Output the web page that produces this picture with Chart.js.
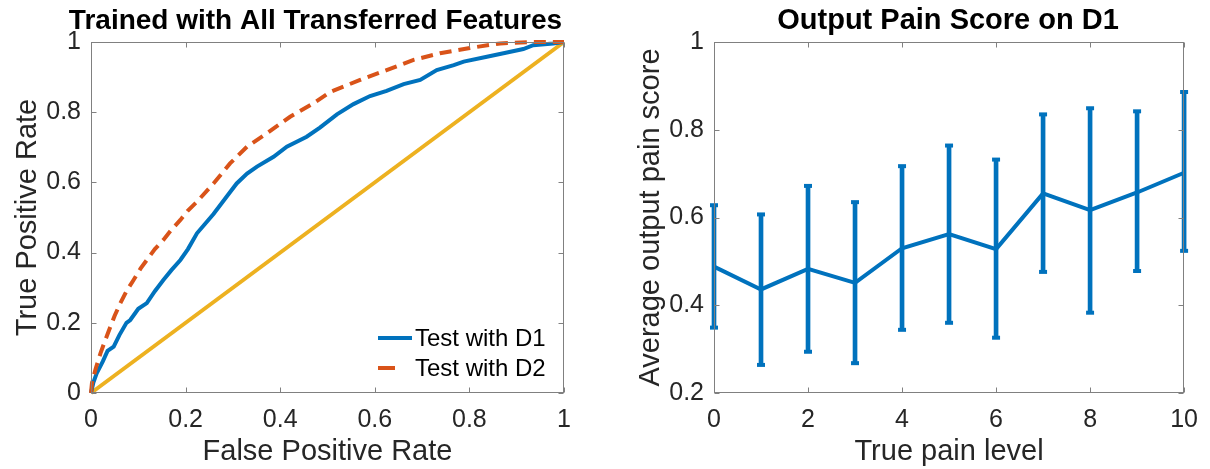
<!DOCTYPE html>
<html>
<head>
<meta charset="utf-8">
<script src="https://cdn.jsdelivr.net/npm/chart.js@4.4.0/dist/chart.umd.min.js"></script>
<style>
  html, body { margin: 0; padding: 0; background: #fff; }
  #wrap { position: relative; width: 1210px; height: 469px; }
  .panel { position: absolute; top: 0; height: 469px; }
  #left { left: 0; width: 630px; }
  #right { left: 630px; width: 580px; }
</style>
</head>
<body>
<div id="wrap">
  <div class="panel" id="left"><canvas id="roc"></canvas></div>
  <div class="panel" id="right"><canvas id="pain"></canvas></div>
</div>
<script>
// ROC curves
const fprD1 = [0, 0.005, 0.012, 0.025, 0.035, 0.048, 0.06, 0.075, 0.083, 0.1, 0.118, 0.135, 0.153, 0.17, 0.189, 0.205, 0.224, 0.24, 0.259, 0.287, 0.308, 0.33, 0.351, 0.386, 0.414, 0.456, 0.484, 0.52, 0.555, 0.59, 0.625, 0.661, 0.696, 0.731, 0.767, 0.788, 0.837, 0.872, 0.914, 0.935, 0.977, 1];
const tprD1 = [0, 0.03, 0.056, 0.09, 0.12, 0.132, 0.165, 0.2, 0.208, 0.24, 0.256, 0.29, 0.322, 0.35, 0.379, 0.41, 0.455, 0.48, 0.51, 0.56, 0.597, 0.625, 0.645, 0.673, 0.702, 0.73, 0.756, 0.794, 0.823, 0.846, 0.861, 0.88, 0.892, 0.92, 0.934, 0.944, 0.958, 0.968, 0.98, 0.991, 0.996, 1];
const fprD2 = [0, 0.002, 0.01, 0.02, 0.03, 0.041, 0.05, 0.062, 0.075, 0.09, 0.105, 0.118, 0.135, 0.153, 0.17, 0.189, 0.205, 0.224, 0.259, 0.294, 0.33, 0.372, 0.421, 0.47, 0.506, 0.569, 0.625, 0.682, 0.738, 0.801, 0.865, 0.935, 1];
const tprD2 = [0, 0.028, 0.07, 0.113, 0.15, 0.189, 0.22, 0.256, 0.29, 0.322, 0.355, 0.379, 0.41, 0.436, 0.465, 0.493, 0.52, 0.545, 0.597, 0.654, 0.702, 0.74, 0.787, 0.825, 0.858, 0.892, 0.92, 0.949, 0.968, 0.983, 0.996, 1, 1];
const chanceFpr = [0, 1];
const chanceTpr = [0, 1];
const rocTicks = [0, 0.2, 0.4, 0.6, 0.8, 1];
const rocTickLabels = ['0', '0.2', '0.4', '0.6', '0.8', '1'];

// pain score per true pain level, with error bar ends
const painLevels = [0, 1, 2, 3, 4, 5, 6, 7, 8, 9, 10];
const painMean = [0.488, 0.436, 0.483, 0.451, 0.530, 0.562, 0.528, 0.655, 0.617, 0.657, 0.702];
const painHigh = [0.628, 0.607, 0.672, 0.635, 0.717, 0.764, 0.732, 0.835, 0.849, 0.842, 0.886];
const painLow = [0.349, 0.264, 0.294, 0.268, 0.344, 0.360, 0.326, 0.476, 0.383, 0.478, 0.524];
const levelTicks = [0, 2, 4, 6, 8, 10];
const levelTickLabels = ['0', '2', '4', '6', '8', '10'];
const scoreTicks = [0.2, 0.4, 0.6, 0.8, 1];
const scoreTickLabels = ['0.2', '0.4', '0.6', '0.8', '1'];

const BLUE = '#0072BD', ORANGE = '#D95319', YELLOW = '#EDB120';
const INK = '#262626';
const FONT = '"Liberation Sans", Arial, Helvetica, sans-serif';

Chart.defaults.font.family = FONT;
Chart.defaults.animation = false;

const pts = (xs, ys) => xs.map((x, i) => ({ x: x, y: ys[i] }));

// box round the axes with inward ticks on all four sides
const matlabAxes = {
  id: 'matlabAxes',
  afterDatasetsDraw(chart) {
    const { ctx, chartArea: a, scales } = chart;
    const L = Math.round(a.left) + 0.5, R = Math.round(a.right) - 0.5;
    const T = Math.round(a.top) + 0.5, B = Math.round(a.bottom) - 0.5;
    ctx.save();
    ctx.strokeStyle = '#808080';
    ctx.lineWidth = 1;
    ctx.strokeRect(L, T, R - L, B - T);
    ctx.beginPath();
    scales.x.ticks.forEach(t => {
      const px = Math.round(scales.x.getPixelForValue(t.value)) + 0.5;
      ctx.moveTo(px, B); ctx.lineTo(px, B - 5);
      ctx.moveTo(px, T); ctx.lineTo(px, T + 5);
    });
    scales.y.ticks.forEach(t => {
      const py = Math.round(scales.y.getPixelForValue(t.value)) + 0.5;
      ctx.moveTo(L, py); ctx.lineTo(L + 5, py);
      ctx.moveTo(R, py); ctx.lineTo(R - 5, py);
    });
    ctx.stroke();
    ctx.restore();
  }
};

// bold title over the axes (the left one sits a bit left of centre in the original)
const panelTitle = {
  id: 'panelTitle',
  afterDraw(chart, args, opts) {
    const { ctx, chartArea: a } = chart;
    ctx.save();
    ctx.font = 'bold ' + opts.size + 'px ' + FONT;
    ctx.fillStyle = '#000';
    ctx.textAlign = 'center';
    ctx.textBaseline = 'middle';
    ctx.fillText(opts.text, (a.left + a.right) / 2 + opts.shift, 21);
    ctx.restore();
  }
};

// legend inside the ROC axes, lower right
const rocLegend = {
  id: 'rocLegend',
  afterDraw(chart) {
    const { ctx } = chart;
    const items = chart.data.datasets.filter(d => d.inLegend);
    ctx.save();
    ctx.font = '24px ' + FONT;
    ctx.textBaseline = 'middle';
    items.forEach((d, i) => {
      const y = 338 + i * 30;
      ctx.strokeStyle = d.borderColor;
      ctx.lineWidth = 4;
      ctx.setLineDash(d.borderDash && d.borderDash.length ? [17, 20] : []);
      ctx.beginPath();
      ctx.moveTo(378, y); ctx.lineTo(412, y);
      ctx.stroke();
      ctx.setLineDash([]);
      ctx.fillStyle = '#000';
      ctx.fillText(d.label, 415, y + 1);
    });
    ctx.restore();
  }
};

function axisX(ticks, labels, min, max, title) {
  return {
    type: 'linear', min: min, max: max, offset: false,
    grid: { display: false, drawTicks: false, offset: false }, border: { display: false },
    afterBuildTicks: s => { s.ticks = ticks.map(v => ({ value: v })); },
    ticks: { callback: (v, i) => labels[i], color: INK, font: { size: 25 }, padding: 12, maxRotation: 0, autoSkip: false },
    title: { display: true, text: title, color: INK, font: { size: 29 }, padding: { top: 0, bottom: 0 } },
    afterFit: s => { s.height = 76; }
  };
}
function axisY(ticks, labels, min, max, title, width, titlePad) {
  return {
    type: 'linear', min: min, max: max,
    grid: { display: false, drawTicks: false }, border: { display: false },
    afterBuildTicks: s => { s.ticks = ticks.map(v => ({ value: v })); },
    ticks: { callback: (v, i) => labels[i], color: INK, font: { size: 25 }, padding: 10, autoSkip: false },
    title: { display: true, text: title, color: INK, font: { size: 29 }, padding: { top: titlePad, bottom: 0 } },
    afterFit: s => { s.width = width; }
  };
}

new Chart(document.getElementById('roc'), {
  type: 'line',
  data: {
    datasets: [
      { label: 'Test with D1', inLegend: true, data: pts(fprD1, tprD1), borderColor: BLUE, borderWidth: 4, pointRadius: 0, tension: 0, clip: false, order: 2 },
      { label: 'Test with D2', inLegend: true, data: pts(fprD2, tprD2), borderColor: ORANGE, borderWidth: 4, borderDash: [12, 7], pointRadius: 0, tension: 0, clip: false, order: 1 },
      { label: 'chance', data: pts(chanceFpr, chanceTpr), borderColor: YELLOW, borderWidth: 4, pointRadius: 0, clip: false, order: 3 }
    ]
  },
  options: {
    responsive: true, maintainAspectRatio: false,
    layout: { padding: { left: 0, right: 66, top: 42, bottom: 0 } },
    plugins: {
      legend: { display: false }, tooltip: { enabled: false }, title: { display: false },
      panelTitle: { text: 'Trained with All Transferred Features', size: 28, shift: -12 }
    },
    scales: {
      x: axisX(rocTicks, rocTickLabels, 0, 1, 'False Positive Rate'),
      y: axisY(rocTicks, rocTickLabels, 0, 1, 'True Positive Rate', 91, 10.6)
    }
  },
  plugins: [matlabAxes, panelTitle, rocLegend]
});

new Chart(document.getElementById('pain'), {
  type: 'line',
  data: {
    datasets: [
      { type: 'line', label: 'mean', data: pts(painLevels, painMean), borderColor: BLUE, borderWidth: 4, pointRadius: 0, clip: false },
      { type: 'bar', label: 'range', data: painLevels.map((x, i) => ({ x: x, y: [painLow[i], painHigh[i]] })), backgroundColor: BLUE, barThickness: 4, borderWidth: 0, clip: false },
      { type: 'line', label: 'high', data: pts(painLevels, painHigh), showLine: false, pointStyle: 'line', pointRadius: 4, pointBorderWidth: 4, borderColor: BLUE, clip: false },
      { type: 'line', label: 'low', data: pts(painLevels, painLow), showLine: false, pointStyle: 'line', pointRadius: 4, pointBorderWidth: 4, borderColor: BLUE, clip: false }
    ]
  },
  options: {
    responsive: true, maintainAspectRatio: false,
    layout: { padding: { left: 0, right: 23, top: 42, bottom: 0 } },
    plugins: {
      legend: { display: false }, tooltip: { enabled: false }, title: { display: false },
      panelTitle: { text: 'Output Pain Score on D1', size: 29, shift: -1 }
    },
    scales: {
      x: axisX(levelTicks, levelTickLabels, 0, 10, 'True pain level'),
      y: axisY(scoreTicks, scoreTickLabels, 0.2, 1, 'Average output pain score', 84, 4)
    }
  },
  plugins: [matlabAxes, panelTitle]
});
</script>
</body>
</html>
